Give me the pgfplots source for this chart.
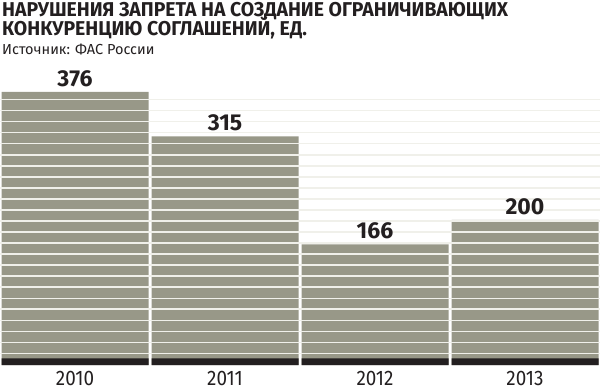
\documentclass[border=0pt]{standalone}
\usepackage{pgfplots}
\pgfplotsset{compat=1.18}
\usepackage{fontspec}
\setmainfont{Fira Sans}
\newfontfamily\titlefont[FakeStretch=0.97]{Fira Sans}
\newfontfamily\numfont{Fira Sans}
\newfontfamily\yearfont[FakeStretch=0.9]{Fira Sans}
\definecolor{barcol}{RGB}{152,152,136}
\definecolor{darkcol}{RGB}{35,31,32}
\definecolor{stripe}{RGB}{240,240,234}
\pgfplotsset{base/.style={
  scale only axis, width=600bp, height=273bp,
  at={(0,0)}, anchor=south west,
  xmin=-0.5, xmax=3.5, ymin=0, ymax=376,
  clip=false,
  ybar, bar width=0.98, bar shift=0pt}}
\begin{document}
\begin{tikzpicture}
\begin{axis}[
  base, axis on top,
  xtick={0,1,2,3}, xticklabels={2010,2011,2012,2013},
  ytick={16.1,31.3,46.5,61.7,76.9,92.0,107.2,122.4,137.6,152.8,168.0,183.2,198.4,213.6,228.8,243.9,259.1,274.3,289.5,304.7,319.9,335.1,350.3,365.5},
  yticklabels={},
  ymajorgrids, grid style={draw=stripe, line width=1.4bp},
  major tick length=0pt,
  axis line style={draw=none},
  xticklabel style={font=\yearfont\fontsize{21bp}{21bp}\selectfont, text=darkcol, anchor=base, inner sep=0pt, yshift=-20bp},
]
\addplot[fill=barcol, draw=none] coordinates {(0,376) (1,315) (2,166) (3,200)};
\addplot[fill=darkcol, draw=none] coordinates {(0,9.2) (1,9.2) (2,9.2) (3,9.2)};
\end{axis}
\begin{axis}[base, hide axis]
\addplot[draw=none, fill=none,
  point meta=explicit symbolic, nodes near coords,
  every node near coord/.append style={font=\numfont\bfseries\fontsize{23bp}{23bp}\selectfont, text=darkcol, anchor=base, inner sep=0pt, yshift=5.5bp}]
  coordinates {(0,376) [376] (1,315) [315] (2,166) [166] (3,200) [200]};
\end{axis}
\node[anchor=base west, inner sep=0pt, text=darkcol, font=\titlefont\bfseries\fontsize{20bp}{20bp}\selectfont] at (2bp,348.5bp) {НАРУШЕНИЯ ЗАПРЕТА НА СОЗДАНИЕ ОГРАНИЧИВАЮЩИХ};
\node[anchor=base west, inner sep=0pt, text=darkcol, font=\titlefont\bfseries\fontsize{20bp}{20bp}\selectfont] at (2bp,329.3bp) {КОНКУРЕНЦИЮ СОГЛАШЕНИЙ, ЕД.};
\node[anchor=base west, inner sep=0pt, text=darkcol, font=\numfont\fontsize{14.5bp}{14.5bp}\selectfont] at (2bp,310bp) {Источник: ФАС России};
\pgfresetboundingbox
\path[use as bounding box] (0,-22bp) rectangle (600bp,365bp);
\end{tikzpicture}
\end{document}
